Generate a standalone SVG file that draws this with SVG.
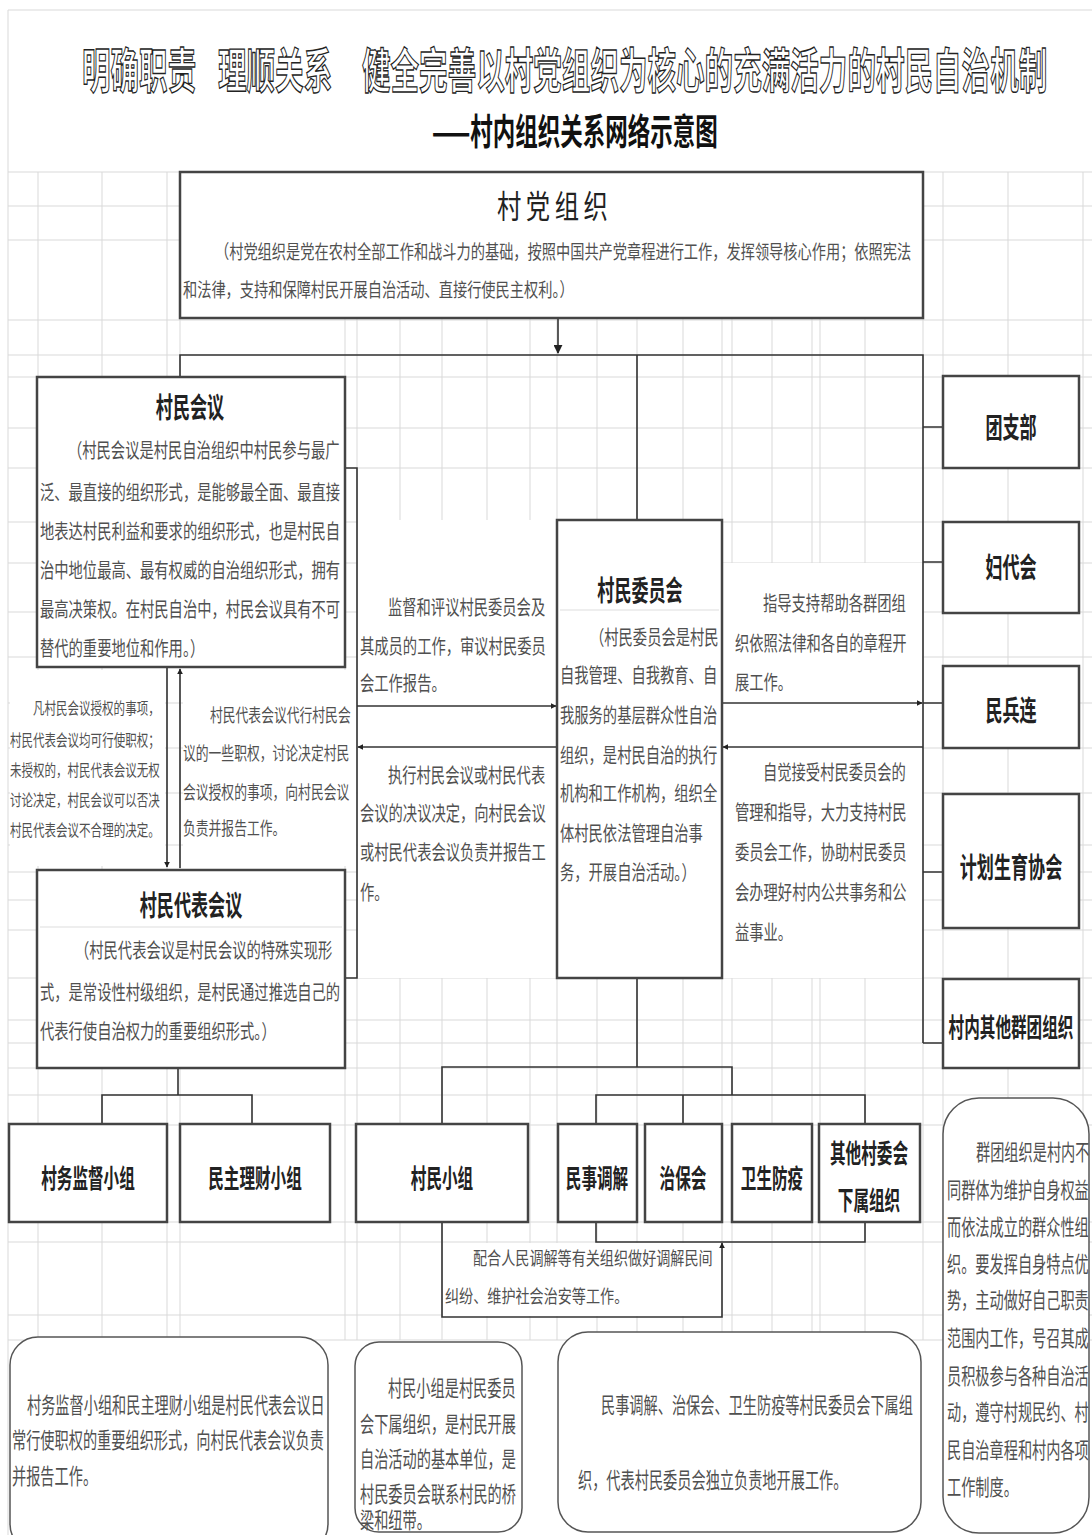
<svg xmlns="http://www.w3.org/2000/svg" width="1092" height="1535" viewBox="0 0 1092 1535">
<style>
text{font-family:"Noto Sans CJK SC","Noto Sans CJK JP",sans-serif;}
.grid{stroke:#d9d9d9;stroke-width:1;fill:none}
.bx{fill:#fff;stroke:#444;stroke-width:2.5}
.rb{fill:#fff;stroke:#555;stroke-width:1.5}
.wh{fill:#fff;stroke:none}
.cn{stroke:#333;stroke-width:1.6;fill:none}
.ttl{font-size:48px;font-weight:bold;fill:#fff;stroke:#222;stroke-width:1.4}
.h{font-size:28px;font-weight:bold;fill:#222;text-anchor:middle}
.h2{font-size:26px;font-weight:bold;fill:#222;text-anchor:middle}
.t{font-size:20px;fill:#505050}
.p{font-size:19px;fill:#505050}
.s{font-size:16px;fill:#505050}
.m{font-size:18px;fill:#505050}
.b{font-size:22px;fill:#505050}
</style>
<defs>
<marker id="ar" viewBox="0 0 10 10" refX="9" refY="5" markerWidth="6" markerHeight="6" markerUnits="userSpaceOnUse" orient="auto"><path d="M0,0 L10,5 L0,10 z" fill="#222"/></marker>
<marker id="arb" viewBox="0 0 10 10" refX="9" refY="5" markerWidth="9" markerHeight="9" markerUnits="userSpaceOnUse" orient="auto"><path d="M0,0 L10,5 L0,10 z" fill="#222"/></marker>
</defs>
<rect width="1092" height="1535" fill="#fff"/>
<path class="grid" d="M8,10 H1092 M8,10 V1535"/>
<g id="grid">
<path class="grid" d="M8,172H1092 M8,206H1092 M8,240H1092 M8,320H1092 M8,355H1092 M8,377H1092 M8,428H1092 M8,468H1092 M8,522H1092 M8,563H1092 M8,612H1092 M8,657H1092 M8,703H1092 M8,748H1092 M8,793H1092 M8,845H1092 M8,872H1092 M8,900H1092 M8,930H1092 M8,978H1092 M8,1020H1092 M8,1043H1092 M8,1068H1092 M8,1095H1092 M8,1125H1092 M8,1222H1092 M8,1242H1092 M8,1315H1092 M8,1340H1092"/>
<path class="grid" d="M38,172V1340 M102,172V1340 M167,172V1340 M180,172V1340 M345,172V1340 M357,172V1340 M400,172V1340 M442,172V1340 M487,172V1340 M530,172V1340 M557,172V1340 M597,172V1340 M637,172V1340 M683,172V1340 M722,172V1340 M732,172V1340 M772,172V1340 M812,172V1340 M820,172V1340 M865,172V1340 M923,172V1340 M943,172V1340 M1008,172V1340 M1083,172V1340"/>
</g>
<g id="title">
<text class="ttl" x="82" y="88" transform="matrix(0.595 0 0 1 33.21 0)">明确职责</text>
<text class="ttl" x="218" y="88" transform="matrix(0.595 0 0 1 88.29 0)">理顺关系</text>
<text class="ttl" x="362" y="88" transform="matrix(0.595 0 0 1 146.61 0)">健全完善以村党组织为核心的充满活力的村民自治机制</text>
<text x="432" y="145" font-size="36" font-weight="bold" fill="#111" transform="matrix(0.625 0 0 1 162 0)">——村内组织关系网络示意图</text>
</g>
<g id="textbg">
<rect class="wh" x="10" y="670" width="155" height="196"/>
<rect class="wh" x="183" y="670" width="173" height="196"/>
<rect class="wh" x="358" y="520" width="198" height="458"/>
<rect class="wh" x="723" y="563" width="199" height="415"/>
<rect class="wh" x="443" y="1243" width="278" height="73"/>
</g>
<g id="connectors">
<path class="cn" d="M558,318 V353" marker-end="url(#arb)"/>
<path class="cn" d="M180,377 V355 H923 V1043"/>
<path class="cn" d="M637,355 V520"/>
<path class="cn" d="M923,427 H943 M923,562 H943 M923,703 H943 M923,872 H943 M923,1043 H943"/>
<path class="cn" d="M722,703 H922" marker-end="url(#ar)"/>
<path class="cn" d="M923,747 H723" marker-end="url(#ar)"/>
<path class="cn" d="M357,706 H556" marker-end="url(#ar)"/>
<path class="cn" d="M557,747 H358" marker-end="url(#ar)"/>
<path class="cn" d="M345,468 H357 V978 H345"/>
<path class="cn" d="M167,667 V867" marker-end="url(#ar)"/>
<path class="cn" d="M180,868 V669" marker-end="url(#ar)"/>
<path class="cn" d="M178,1068 V1095 M102,1125 V1095 H252 V1125"/>
<path class="cn" d="M637,978 V1067 M442,1125 V1067 H732 V1095 M596,1125 V1095 H865 V1125 M683,1095 V1125"/>
<path class="cn" d="M596,1222 V1242 H865 V1222"/>
<path class="cn" d="M442,1222 V1317 H722 V1243" marker-end="url(#ar)"/>
</g>
<g id="n-dang">
<rect class="bx" x="180" y="172" width="743" height="146"/>
<text x="497" y="218" font-size="32" fill="#222" letter-spacing="6" transform="matrix(0.76 0 0 1 119.28 0)">村党组织</text>
<text class="p" x="215" y="259" transform="matrix(0.7485 0 0 1 54.07 0)">（村党组织是党在农村全部工作和战斗力的基础，按照中国共产党章程进行工作，发挥领导核心作用；依照宪法</text>
<text class="p" x="183" y="297" transform="matrix(0.7485 0 0 1 46.02 0)">和法律，支持和保障村民开展自治活动、直接行使民主权利。）</text>
</g>
<g id="n-cmhy">
<rect class="bx" x="37" y="377" width="308" height="290"/>
<text class="h" x="190" y="418" transform="matrix(0.61 0 0 1 74.1 0)">村民会议</text>
<text class="t" x="68" y="458" transform="matrix(0.715 0 0 1 19.38 0)">（村民会议是村民自治组织中村民参与最广</text>
<text class="t" x="40" y="500" transform="matrix(0.715 0 0 1 11.4 0)">泛、最直接的组织形式，是能够最全面、最直接</text>
<text class="t" x="40" y="539" transform="matrix(0.715 0 0 1 11.4 0)">地表达村民利益和要求的组织形式，也是村民自</text>
<text class="t" x="40" y="578" transform="matrix(0.715 0 0 1 11.4 0)">治中地位最高、最有权威的自治组织形式，拥有</text>
<text class="t" x="40" y="617" transform="matrix(0.715 0 0 1 11.4 0)">最高决策权。在村民自治中，村民会议具有不可</text>
<text class="t" x="40" y="656" transform="matrix(0.715 0 0 1 11.4 0)">替代的重要地位和作用。）</text>
</g>
<g id="n-cmdbhy">
<rect class="bx" x="37" y="870" width="308" height="198"/>
<line x1="40" y1="927" x2="342" y2="927" stroke="#ddd" stroke-width="1"/>
<text class="h" x="191" y="916" transform="matrix(0.61 0 0 1 74.49 0)">村民代表会议</text>
<text class="t" x="75" y="958" transform="matrix(0.715 0 0 1 21.375 0)">（村民代表会议是村民会议的特殊实现形</text>
<text class="t" x="40" y="1000" transform="matrix(0.715 0 0 1 11.4 0)">式，是常设性村级组织，是村民通过推选自己的</text>
<text class="t" x="40" y="1039" transform="matrix(0.715 0 0 1 11.4 0)">代表行使自治权力的重要组织形式。）</text>
</g>
<g id="n-cwh">
<rect class="bx" x="557" y="520" width="165" height="458"/>
<line x1="560" y1="610" x2="719" y2="610" stroke="#ddd" stroke-width="1"/>
<text class="h" x="640" y="601" transform="matrix(0.61 0 0 1 249.6 0)">村民委员会</text>
<text class="t" x="590" y="645" transform="matrix(0.715 0 0 1 168.15 0)">（村民委员会是村民</text>
<text class="t" x="560" y="683" transform="matrix(0.715 0 0 1 159.6 0)">自我管理、自我教育、自</text>
<text class="t" x="560" y="723" transform="matrix(0.715 0 0 1 159.6 0)">我服务的基层群众性自治</text>
<text class="t" x="560" y="763" transform="matrix(0.715 0 0 1 159.6 0)">组织，是村民自治的执行</text>
<text class="t" x="560" y="801" transform="matrix(0.715 0 0 1 159.6 0)">机构和工作机构，组织全</text>
<text class="t" x="560" y="841" transform="matrix(0.715 0 0 1 159.6 0)">体村民依法管理自治事</text>
<text class="t" x="560" y="880" transform="matrix(0.715 0 0 1 159.6 0)">务，开展自治活动。）</text>
</g>
<g id="labels">
<text class="t" x="388" y="615" transform="matrix(0.715 0 0 1 110.58 0)">监督和评议村民委员会及</text>
<text class="t" x="360" y="654" transform="matrix(0.715 0 0 1 102.6 0)">其成员的工作，审议村民委员</text>
<text class="t" x="360" y="691" transform="matrix(0.715 0 0 1 102.6 0)">会工作报告。</text>
<text class="t" x="388" y="783" transform="matrix(0.715 0 0 1 110.58 0)">执行村民会议或村民代表</text>
<text class="t" x="360" y="821" transform="matrix(0.715 0 0 1 102.6 0)">会议的决议决定，向村民会议</text>
<text class="t" x="360" y="860" transform="matrix(0.715 0 0 1 102.6 0)">或村民代表会议负责并报告工</text>
<text class="t" x="360" y="900" transform="matrix(0.715 0 0 1 102.6 0)">作。</text>
<text class="t" x="763" y="611" transform="matrix(0.715 0 0 1 217.455 0)">指导支持帮助各群团组</text>
<text class="t" x="735" y="651" transform="matrix(0.715 0 0 1 209.475 0)">织依照法律和各自的章程开</text>
<text class="t" x="735" y="690" transform="matrix(0.715 0 0 1 209.475 0)">展工作。</text>
<text class="t" x="763" y="780" transform="matrix(0.715 0 0 1 217.455 0)">自觉接受村民委员会的</text>
<text class="t" x="735" y="820" transform="matrix(0.715 0 0 1 209.475 0)">管理和指导，大力支持村民</text>
<text class="t" x="735" y="860" transform="matrix(0.715 0 0 1 209.475 0)">委员会工作，协助村民委员</text>
<text class="t" x="735" y="900" transform="matrix(0.715 0 0 1 209.475 0)">会办理好村内公共事务和公</text>
<text class="t" x="735" y="940" transform="matrix(0.715 0 0 1 209.475 0)">益事业。</text>
<text class="s" x="33" y="714" transform="matrix(0.72 0 0 1 9.24 0)">凡村民会议授权的事项，</text>
<text class="s" x="10" y="746" transform="matrix(0.72 0 0 1 2.8 0)">村民代表会议均可行使职权；</text>
<text class="s" x="10" y="776" transform="matrix(0.72 0 0 1 2.8 0)">未授权的，村民代表会议无权</text>
<text class="s" x="10" y="806" transform="matrix(0.72 0 0 1 2.8 0)">讨论决定，村民会议可以否决</text>
<text class="s" x="10" y="836" transform="matrix(0.72 0 0 1 2.8 0)">村民代表会议不合理的决定。</text>
<text class="m" x="210" y="722" transform="matrix(0.711 0 0 1 60.69 0)">村民代表会议代行村民会</text>
<text class="m" x="183" y="760" transform="matrix(0.711 0 0 1 52.887 0)">议的一些职权，讨论决定村民</text>
<text class="m" x="183" y="799" transform="matrix(0.711 0 0 1 52.887 0)">会议授权的事项，向村民会议</text>
<text class="m" x="183" y="835" transform="matrix(0.711 0 0 1 52.887 0)">负责并报告工作。</text>
<text class="m" x="473" y="1265" transform="matrix(0.784 0 0 1 102.17 0)">配合人民调解等有关组织做好调解民间</text>
<text class="m" x="445" y="1303" transform="matrix(0.784 0 0 1 96.12 0)">纠纷、维护社会治安等工作。</text>
</g>
<g id="n-tzb"><rect class="bx" x="943" y="376" width="136" height="92"/><text class="h" x="1011" y="438" transform="matrix(0.61 0 0 1 394.29 0)">团支部</text></g>
<g id="n-fdh"><rect class="bx" x="943" y="522" width="136" height="91"/><text class="h" x="1011" y="578" transform="matrix(0.61 0 0 1 394.29 0)">妇代会</text></g>
<g id="n-mbl"><rect class="bx" x="943" y="666" width="136" height="82"/><text class="h" x="1011" y="721" transform="matrix(0.61 0 0 1 394.29 0)">民兵连</text></g>
<g id="n-jhsy"><rect class="bx" x="943" y="794" width="136" height="134"/><text class="h" x="1011" y="878" transform="matrix(0.61 0 0 1 394.29 0)">计划生育协会</text></g>
<g id="n-qtqt"><rect class="bx" x="943" y="979" width="136" height="89"/><text class="h2" x="1011" y="1037" transform="matrix(0.6 0 0 1 404.4 0)">村内其他群团组织</text></g>
<g id="n-cwjd"><rect class="bx" x="9" y="1124" width="158" height="98"/><text class="h2" x="88" y="1188" transform="matrix(0.6 0 0 1 35.2 0)">村务监督小组</text></g>
<g id="n-mzlc"><rect class="bx" x="180" y="1124" width="150" height="98"/><text class="h2" x="255" y="1188" transform="matrix(0.6 0 0 1 102 0)">民主理财小组</text></g>
<g id="n-cmxz"><rect class="bx" x="356" y="1124" width="172" height="98"/><text class="h2" x="442" y="1188" transform="matrix(0.6 0 0 1 176.8 0)">村民小组</text></g>
<g id="n-mstj"><rect class="bx" x="558" y="1124" width="79" height="98"/><text class="h2" x="597" y="1188" transform="matrix(0.6 0 0 1 238.8 0)">民事调解</text></g>
<g id="n-zbh"><rect class="bx" x="645" y="1124" width="77" height="98"/><text class="h2" x="683" y="1188" transform="matrix(0.6 0 0 1 273.2 0)">治保会</text></g>
<g id="n-wsfy"><rect class="bx" x="732" y="1124" width="80" height="98"/><text class="h2" x="772" y="1188" transform="matrix(0.6 0 0 1 308.8 0)">卫生防疫</text></g>
<g id="n-qtxs"><rect class="bx" x="819" y="1124" width="101" height="98"/><text class="h2" x="869" y="1163" transform="matrix(0.6 0 0 1 347.6 0)">其他村委会</text><text class="h2" x="869" y="1210" transform="matrix(0.6 0 0 1 347.6 0)">下属组织</text></g>
<g id="n-note1">
<rect class="rb" x="10" y="1337" width="318" height="215" rx="28"/>
<text class="b" x="27" y="1413" transform="matrix(0.645 0 0 1 9.585 0)">村务监督小组和民主理财小组是村民代表会议日</text>
<text class="b" x="12" y="1448" transform="matrix(0.645 0 0 1 4.26 0)">常行使职权的重要组织形式，向村民代表会议负责</text>
<text class="b" x="12" y="1484" transform="matrix(0.645 0 0 1 4.26 0)">并报告工作。</text>
</g>
<g id="n-note2">
<rect class="rb" x="355" y="1342" width="167" height="190" rx="24"/>
<text class="b" x="388" y="1396" transform="matrix(0.645 0 0 1 137.74 0)">村民小组是村民委员</text>
<text class="b" x="360" y="1432" transform="matrix(0.645 0 0 1 127.8 0)">会下属组织，是村民开展</text>
<text class="b" x="360" y="1467" transform="matrix(0.645 0 0 1 127.8 0)">自治活动的基本单位，是</text>
<text class="b" x="360" y="1502" transform="matrix(0.645 0 0 1 127.8 0)">村民委员会联系村民的桥</text>
<text class="b" x="360" y="1528" transform="matrix(0.645 0 0 1 127.8 0)">梁和纽带。</text>
</g>
<g id="n-note3">
<rect class="rb" x="558" y="1332" width="363" height="200" rx="30"/>
<text class="b" x="601" y="1413" transform="matrix(0.645 0 0 1 213.355 0)">民事调解、治保会、卫生防疫等村民委员会下属组</text>
<text class="b" x="578" y="1488" transform="matrix(0.645 0 0 1 205.19 0)">织，代表村民委员会独立负责地开展工作。</text>
</g>
<g id="n-note4">
<rect class="rb" x="943" y="1098" width="146" height="435" rx="36"/>
<text class="b" x="976" y="1160" transform="matrix(0.645 0 0 1 346.48 0)">群团组织是村内不</text>
<text class="b" x="947" y="1198" transform="matrix(0.645 0 0 1 336.185 0)">同群体为维护自身权益</text>
<text class="b" x="947" y="1235" transform="matrix(0.645 0 0 1 336.185 0)">而依法成立的群众性组</text>
<text class="b" x="947" y="1272" transform="matrix(0.645 0 0 1 336.185 0)">织。要发挥自身特点优</text>
<text class="b" x="947" y="1308" transform="matrix(0.645 0 0 1 336.185 0)">势，主动做好自己职责</text>
<text class="b" x="947" y="1346" transform="matrix(0.645 0 0 1 336.185 0)">范围内工作，号召其成</text>
<text class="b" x="947" y="1384" transform="matrix(0.645 0 0 1 336.185 0)">员积极参与各种自治活</text>
<text class="b" x="947" y="1420" transform="matrix(0.645 0 0 1 336.185 0)">动，遵守村规民约、村</text>
<text class="b" x="947" y="1458" transform="matrix(0.645 0 0 1 336.185 0)">民自治章程和村内各项</text>
<text class="b" x="947" y="1495" transform="matrix(0.645 0 0 1 336.185 0)">工作制度。</text>
</g>
</svg>
